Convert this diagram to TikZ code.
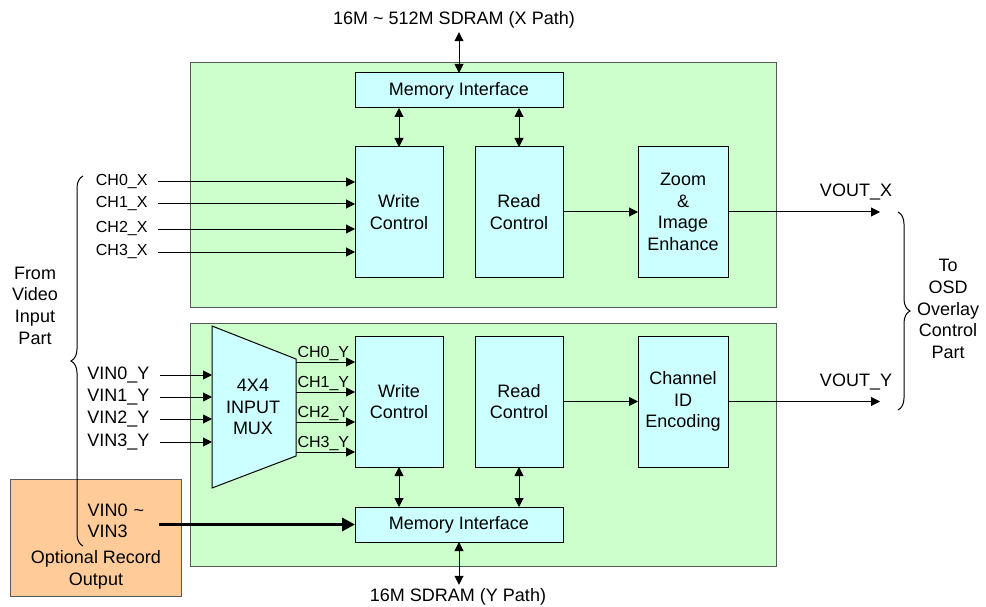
\documentclass[tikz,border=0pt]{standalone}
\usepackage{fontspec}
\setmainfont{Liberation Sans}
\usetikzlibrary{arrows.meta,decorations.pathreplacing}

\definecolor{pathgreen}{HTML}{CCFFCC}
\definecolor{blockcyan}{HTML}{CCFFFF}
\definecolor{recorange}{HTML}{FFCC99}

\tikzset{
	panel/.style={draw=black!65,fill=pathgreen,inner sep=0,outer sep=0},
	block/.style={draw=black,fill=blockcyan,align=center,inner sep=0,outer sep=0},
	arr/.style={-{Triangle[length=9pt,width=9pt]}},
	dbl/.style={{Triangle[length=9pt,width=9pt]}-{Triangle[length=9pt,width=9pt]}},
	sig/.style={font=\fontsize{16}{19}\selectfont},
	curly/.style={decorate,decoration={brace,amplitude=12pt}}
}

\begin{document}
\begin{tikzpicture}[x=1pt,y=-1pt,line width=1pt,font=\fontsize{18}{21.6}\selectfont]
	\useasboundingbox (0,0) rectangle (986,607);
	% the two paths
	\node[panel,minimum width=586pt,minimum height=244pt] (xpath) at (483,185) {};
	\node[panel,minimum width=586pt,minimum height=243pt] (ypath) at (483,444.5) {};
	\node[draw=black!65,fill=recorange,minimum width=171pt,minimum height=117pt,inner sep=0,outer sep=0] (rec) at (95.5,537.5) {};
	\node[align=center] (recl) at (96,570) {Optional Record\\Output};
	\draw[curly] (83,546) -- (83,176);
	\draw[curly] (898,212) -- (898,410);
	\node[align=center] (fromvid) at (35,305.5) {From\\Video\\Input\\Part};
	\node[align=center] (toosd) at (948,309) {To\\OSD\\Overlay\\Control\\Part};
	% X path
	\node[block,minimum width=208pt,minimum height=35pt] (memx) at (459,90.5) {Memory Interface};
	\node[block,minimum width=88pt,minimum height=130pt] (wx) at (399,212) {Write\\Control};
	\node[block,minimum width=88pt,minimum height=130pt] (rx) at (519,212) {Read\\Control};
	\node[block,minimum width=90pt,minimum height=130pt] (zx) at (683,212) {Zoom\\\&\\Image\\Enhance};
	\node (sdx) at (454,20) {16M \textasciitilde{} 512M SDRAM (X Path)};
	\draw[dbl] (memx.north) -- (memx.north |- sdx.south);
	\draw[dbl] (wx.north) -- (wx.north |- memx.south);
	\draw[dbl] (rx.north) -- (rx.north |- memx.south);
	\draw[arr] (rx.east) -- (zx.west);
	\foreach \i/\y in {0/182,1/204,2/229,3/252} {
		\node[sig,anchor=east,inner xsep=10pt] (chx\i) at (158,\y) {CH\i\_X};
		\draw[arr] (chx\i.east) -- (wx.west |- chx\i.east);
	}
	\coordinate (voutx) at (880,212);
	\draw[arr] (zx.east) -- (voutx);
	\node (voutxl) at (856,192) {VOUT\_X};
	% Y path
	\draw[block] (212,326) -- (296,359) -- (296,456) -- (212,488) -- cycle;
	\node[align=center] (mux) at (253,407) {4X4\\INPUT\\MUX};
	\node[block,minimum width=88pt,minimum height=131pt] (wy) at (399,401.5) {Write\\Control};
	\node[block,minimum width=88pt,minimum height=131pt] (ry) at (519,401.5) {Read\\Control};
	\node[block,minimum width=90pt,minimum height=131pt] (cy) at (683,401.5) {Channel\\ID\\Encoding};
	\node[block,minimum width=208pt,minimum height=35pt] (memy) at (459,524.5) {Memory Interface};
	\node (sdy) at (458,597) {16M SDRAM (Y Path)};
	\draw[dbl] (memy.south) -- (memy.south |- sdy.north);
	\draw[dbl] (wy.south) -- (wy.south |- memy.north);
	\draw[dbl] (ry.south) -- (ry.south |- memy.north);
	\draw[arr] (ry.east) -- (cy.west);
	\foreach \i/\y in {0/375,1/397,2/419,3/442} {
		\node[anchor=east,inner xsep=10pt] (vin\i) at (160,\y) {VIN\i\_Y};
		\coordinate (mi\i) at (212,\y);
		\draw[arr] (vin\i.east) -- (mi\i);
	}
	\foreach \i/\y in {0/362,1/392,2/422,3/452} {
		\coordinate (mo\i) at (296,\y);
		\draw[arr] (mo\i) -- (wy.west |- mo\i) node[sig,pos=0,anchor=south west,inner xsep=1pt,inner ysep=0.5pt] {CH\i\_Y};
	}
	\coordinate (vouty) at (880,401.5);
	\draw[arr] (cy.east) -- (vouty);
	\node (voutyl) at (856,382) {VOUT\_Y};
	% record output
	\node[align=left,anchor=west,inner xsep=0,text width=71pt] (vinrec) at (87,521) {VIN0 \textasciitilde\\VIN3};
	\draw[line width=3.3pt,-{Triangle[length=13pt,width=13pt]}] (vinrec.east |- memy.west) -- (memy.west);
\end{tikzpicture}
\end{document}
